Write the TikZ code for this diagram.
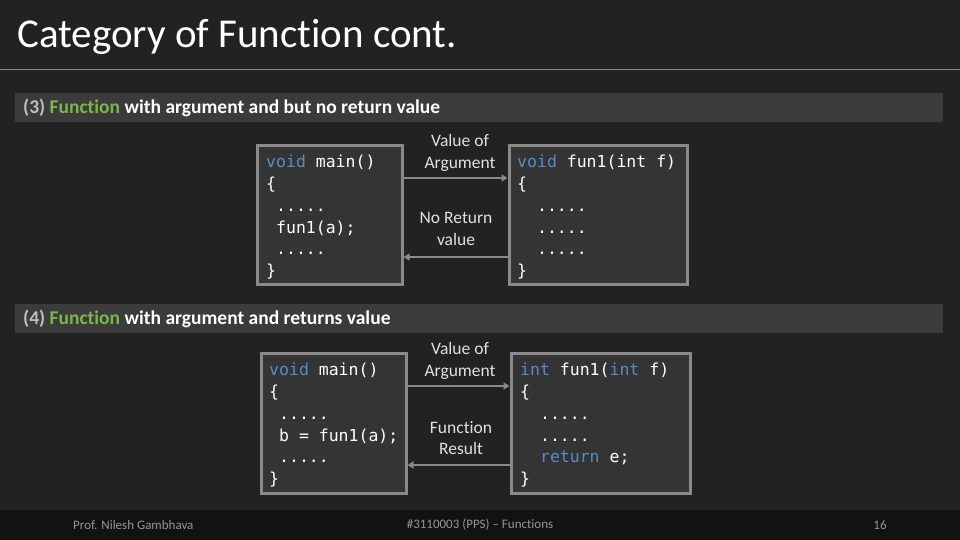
\documentclass[tikz,border=0pt]{standalone}
\usepackage{fontspec}
\setmainfont{Carlito}[Ligatures=NoCommon]
\setmonofont{DejaVu Sans Mono}
\usetikzlibrary{arrows.meta}

\definecolor{slidebg}{RGB}{34,34,34}
\definecolor{footbg}{RGB}{18,18,18}
\definecolor{barbg}{RGB}{59,59,59}
\definecolor{boxbg}{RGB}{52,52,52}
\definecolor{boxline}{RGB}{138,138,138}
\definecolor{kw}{RGB}{88,140,196}
\definecolor{fgreen}{RGB}{122,182,72}
\definecolor{lbl}{RGB}{225,225,225}
\definecolor{foot}{RGB}{150,150,150}

\tikzset{
  codebox/.style={draw=boxline, fill=boxbg, line width=3pt, inner sep=0pt},
  code/.style={anchor=north west, inner sep=0pt, align=left, text=white,
    font=\ttfamily\fontsize{16.5}{21.8}\selectfont},
  flow/.style={draw=boxline, line width=2.5pt, -{Triangle[length=6pt,width=7pt]}},
  flowlbl/.style={align=center, text=lbl, inner sep=0pt,
    font=\fontsize{17.5}{21.5}\selectfont},
  heading/.style={anchor=west, inner sep=0pt, text=white,
    font=\bfseries\fontsize{19.5}{22}\selectfont},
  footer/.style={text=foot, inner sep=0pt, font=\fontsize{13}{15}\selectfont}
}
\newcommand{\kw}[1]{\textcolor{kw}{#1}}

\begin{document}
\begin{tikzpicture}[x=1pt,y=-1pt]
  % slide background and footer
  \fill[slidebg] (0,0) rectangle (960,540);
  \fill[footbg] (0,510) rectangle (960,540);
  \useasboundingbox (0,0) rectangle (960,540);

  % title
  \node[anchor=west, inner sep=0pt, text=white, font=\fontsize{41}{45}\selectfont] (title) at (17,37) {Category of Function cont.};
  \draw[boxline, line width=1pt] (0,70) -- (960,70);

  % (3) no return value
  \fill[barbg] (15,93) rectangle (943,122);
  \node[heading] (head3) at (23,108) {\textcolor{lightgray}{(3)} \textcolor{fgreen}{Function} with argument and but no return value};

  \node[codebox, minimum width=145pt, minimum height=138pt] (main3) at (329.5,215) {};
  \node[codebox, minimum width=178pt, minimum height=138pt] (fun3) at (598,215) {};
  \node[code] (mcode3) at (266,155) {\kw{void} main()\\\{\\\ .....\\\ fun1(a);\\\ .....\\\}};
  \node[code] (fcode3) at (517,155) {\kw{void} fun1(int f)\\\{\\\ \ .....\\\ \ .....\\\ \ .....\\\}};

  \draw[flow] (main3.east |- 0,178) -- (fun3.west |- 0,178);
  \draw[flow] (fun3.west |- 0,257) -- (main3.east |- 0,257);
  \node[flowlbl] (arg3) at (460,153) {Value of\\Argument};
  \node[flowlbl] (noret3) at (456,229) {No Return\\value};

  % (4) returns value
  \fill[barbg] (15,304) rectangle (943,333);
  \node[heading] (head4) at (23,319) {\textcolor{lightgray}{(4)} \textcolor{fgreen}{Function} with argument and returns value};

  \node[codebox, minimum width=145pt, minimum height=140pt] (main4) at (333.5,423) {};
  \node[codebox, minimum width=179pt, minimum height=140pt] (fun4) at (600.5,423) {};
  \node[code] (mcode4) at (269,363) {\kw{void} main()\\\{\\\ .....\\\ b = fun1(a);\\\ .....\\\}};
  \node[code] (fcode4) at (520,363) {\kw{int} fun1(\kw{int} f)\\\{\\\ \ .....\\\ \ .....\\\ \ \kw{return} e;\\\}};

  \draw[flow] (main4.east |- 0,386) -- (fun4.west |- 0,386);
  \draw[flow] (fun4.west |- 0,465) -- (main4.east |- 0,465);
  \node[flowlbl] (arg4) at (460,361) {Value of\\Argument};
  \node[flowlbl] (res4) at (461,438) {Function\\Result};

  % footer
  \node[footer, anchor=west] (author) at (73,525) {Prof. Nilesh Gambhava};
  \node[footer] (course) at (480,525) {\#3110003 (PPS) – Functions};
  \node[footer] (page) at (880,525) {16};
\end{tikzpicture}
\end{document}
